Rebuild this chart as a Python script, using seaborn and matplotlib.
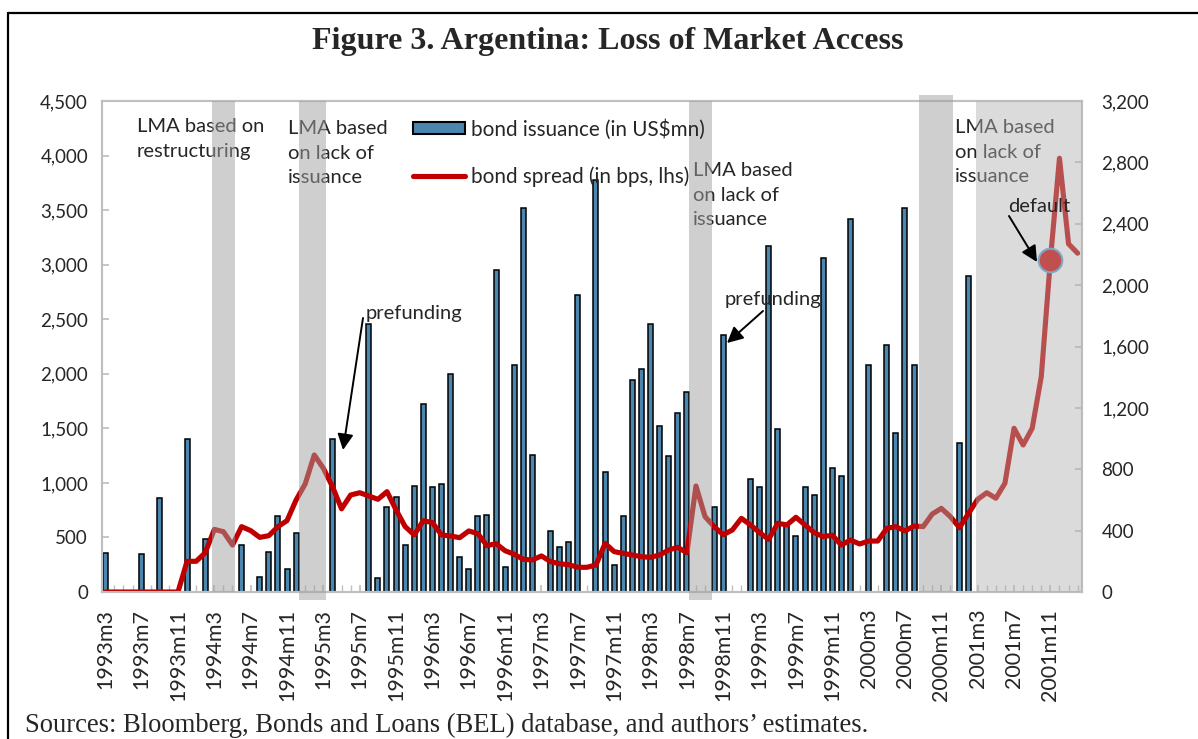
import matplotlib.pyplot as plt
import pandas as pd
import seaborn as sns
from matplotlib.lines import Line2D
from matplotlib.patches import Patch

# monthly data, 1993m3 .. 2002m2 (0 = no issuance that month)
issuance = [
    360, 0, 0, 0, 350, 0, 860, 0, 0, 1400,
    0, 490, 0, 0, 0, 430, 0, 140, 370, 700,
    210, 540, 0, 0, 0, 1400, 0, 0, 0, 2460,
    130, 780, 870, 430, 970, 1720, 960, 990, 2000, 320,
    215, 700, 705, 2950, 225, 2080, 3515, 1260, 0, 555,
    415, 460, 2725, 0, 3775, 1100, 245, 700, 1940, 2045,
    2460, 1525, 1245, 1645, 1830, 0, 0, 780, 2355, 0,
    0, 1035, 960, 3170, 1495, 620, 510, 965, 885, 3065,
    1140, 1060, 3415, 0, 2085, 0, 2265, 1460, 3515, 2080,
    0, 0, 0, 0, 1370, 2900, 0, 0, 0, 0,
    0, 0, 0, 0, 0, 0, 0, 0,
]
spread = [
    0, 0, 0, 0, 0, 0, 0, 0, 0, 200,
    200, 256, 408, 393, 306, 426, 400, 356, 367, 426,
    465, 600, 704, 893, 806, 687, 542, 632, 647, 626,
    604, 654, 535, 426, 372, 465, 452, 372, 365, 354,
    398, 380, 302, 315, 269, 246, 213, 209, 235, 198,
    184, 178, 161, 161, 176, 317, 263, 252, 241, 230,
    226, 241, 274, 291, 256, 691, 491, 426, 373, 404,
    480, 437, 387, 343, 448, 437, 487, 437, 387, 361,
    370, 306, 339, 313, 332, 332, 415, 426, 398, 430,
    426, 508, 545, 491, 419, 513, 604, 647, 611, 709,
    1067, 958, 1067, 1404, 2164, 2827, 2269, 2208,
]
tick_labels = [
    "1993m3", "1993m7", "1993m11", "1994m3", "1994m7", "1994m11",
    "1995m3", "1995m7", "1995m11", "1996m3", "1996m7", "1996m11",
    "1997m3", "1997m7", "1997m11", "1998m3", "1998m7", "1998m11",
    "1999m3", "1999m7", "1999m11", "2000m3", "2000m7", "2000m11",
    "2001m3", "2001m7", "2001m11",
]
# loss-of-market-access windows (month index)
lma_bands = [(11.74, 14.31), (21.27, 24.29), (64.19, 66.77), (89.58, 93.29)]
late_band = (95.85, 107.48)
default_month = 104

sns.set_theme(style="white")
plt.rcParams["font.family"] = ["Lato", "DejaVu Sans"]

df = pd.DataFrame({"month": range(len(spread)), "issuance": issuance, "spread": spread})

W, H = 1198, 739
def fx(px):
    return px / W
def fy(py):
    return 1 - py / H

fig = plt.figure(figsize=(W / 100, H / 100), dpi=100)
ax = fig.add_axes([fx(102), fy(592), 980 / W, 491 / H])
ax2 = ax.twinx()

bar_color = "#4a86ad"
line_color = "#c00000"
spine_color = "#bfbfbf"

sns.barplot(
    data=df[df["issuance"] > 0], x="month", y="issuance", native_scale=True,
    width=0.55, color=bar_color, saturation=1, edgecolor="black",
    linewidth=1.1, errorbar=None, ax=ax,
)
sns.lineplot(data=df, x="month", y="spread", color=line_color, lw=3.7, ax=ax2, zorder=2)

# shaded LMA windows sit on top of line and notes, so they look faded
for i, (a, b) in enumerate(lma_bands):
    lo = -0.017 if i in (1, 2) else 0
    hi = 1.012 if i == 3 else 1
    ax2.axvspan(a, b, ymin=lo, ymax=hi, color="#a0a0a0", alpha=0.5, lw=0,
                zorder=3, clip_on=False)
ax2.axvspan(*late_band, color="#b0b0b0", alpha=0.45, lw=0, zorder=3)

ax2.plot(default_month, spread[default_month], "o", ms=17, mfc="#c0504d",
         mec="#7ea7c9", mew=1.5, zorder=4)

ax.set_xticks(range(0, 108, 4))
ax.set_xticklabels(tick_labels, rotation=90)
ax.set_xticks(range(108), minor=True)
ax.tick_params(axis="x", which="both", bottom=True, direction="in", length=5,
               color=spine_color, labelsize=15.5, pad=12)
ax.set_ylim(0, 4500)
ax.set_yticks(range(0, 4501, 500))
ax.set_yticklabels([f"{v:,}" for v in range(0, 4501, 500)])
ax.tick_params(axis="y", left=True, direction="in", length=5, color=spine_color,
               labelsize=13.5, pad=10)
ax2.set_ylim(0, 3200)
ax2.set_yticks(range(0, 3201, 400))
ax2.set_yticklabels([f"{v:,}" for v in range(0, 3201, 400)])
ax2.tick_params(axis="y", right=True, direction="in", length=5, color=spine_color,
                labelsize=13.5, pad=14)
for a in (ax, ax2):
    a.set_xlabel("")
    a.set_ylabel("")
    for s in a.spines.values():
        s.set_color(spine_color)
        s.set_linewidth(1.5)
ax.set_xlim(-0.36, 107.48)

handles = [
    Patch(facecolor=bar_color, edgecolor="black", lw=1.5),
    Line2D([], [], color=line_color, lw=3.7),
]
ax2.legend(handles, ["bond issuance (in US$mn)", "bond spread (in bps, lhs)"],
           loc="upper left", bbox_to_anchor=(fx(413), fy(119)),
           bbox_transform=fig.transFigure, frameon=False, fontsize=14.9,
           handlelength=2.5, handleheight=0.5, handletextpad=0.3,
           borderpad=0, borderaxespad=0, labelspacing=1.28)

notes = [
    (137, 118, "LMA based on\nrestructuring"),
    (288, 120, "LMA based\non lack of\nissuance"),
    (693, 162, "LMA based\non lack of\nissuance"),
    (955, 119, "LMA based\non lack of\nissuance"),
]
for x, y, s in notes:
    ax2.text(fx(x), fy(y), s, transform=fig.transFigure, fontsize=14.5,
             ha="left", va="top", linespacing=1.55, zorder=2.5)

arrows = [
    (366, 313, "prefunding", (363, 318), (343, 450)),
    (725, 300, "prefunding", (763, 311), (727, 343)),
    (1008, 207, "default", (1009, 216), (1037, 262)),
]
for x, y, s, tail, tip in arrows:
    ax2.text(fx(x), fy(y), s, transform=fig.transFigure, fontsize=14.5,
             ha="left", va="center", zorder=6)
    ax2.annotate("", xy=(fx(tip[0]), fy(tip[1])), xycoords="figure fraction",
                 xytext=(fx(tail[0]), fy(tail[1])), textcoords="figure fraction",
                 arrowprops=dict(arrowstyle="-|>", color="black", lw=1.4,
                                 mutation_scale=24, shrinkA=0, shrinkB=0),
                 zorder=6)

fig.text(fx(608), fy(42), "Figure 3. Argentina: Loss of Market Access",
         ha="center", va="center", family="Liberation Serif",
         fontweight="bold", fontsize=23)
fig.text(fx(25), fy(725),
         "Sources: Bloomberg, Bonds and Loans (BEL) database, and authors\u2019 estimates.",
         ha="left", va="center", family="Liberation Serif", fontsize=19.2)

fig.add_artist(Line2D([fx(8), 1], [fy(13), fy(13)], color="black", lw=1.6,
                      transform=fig.transFigure))
fig.add_artist(Line2D([fx(8), fx(8)], [fy(13), 0], color="black", lw=1.6,
                      transform=fig.transFigure))

fig.savefig("out.png", dpi=100)
